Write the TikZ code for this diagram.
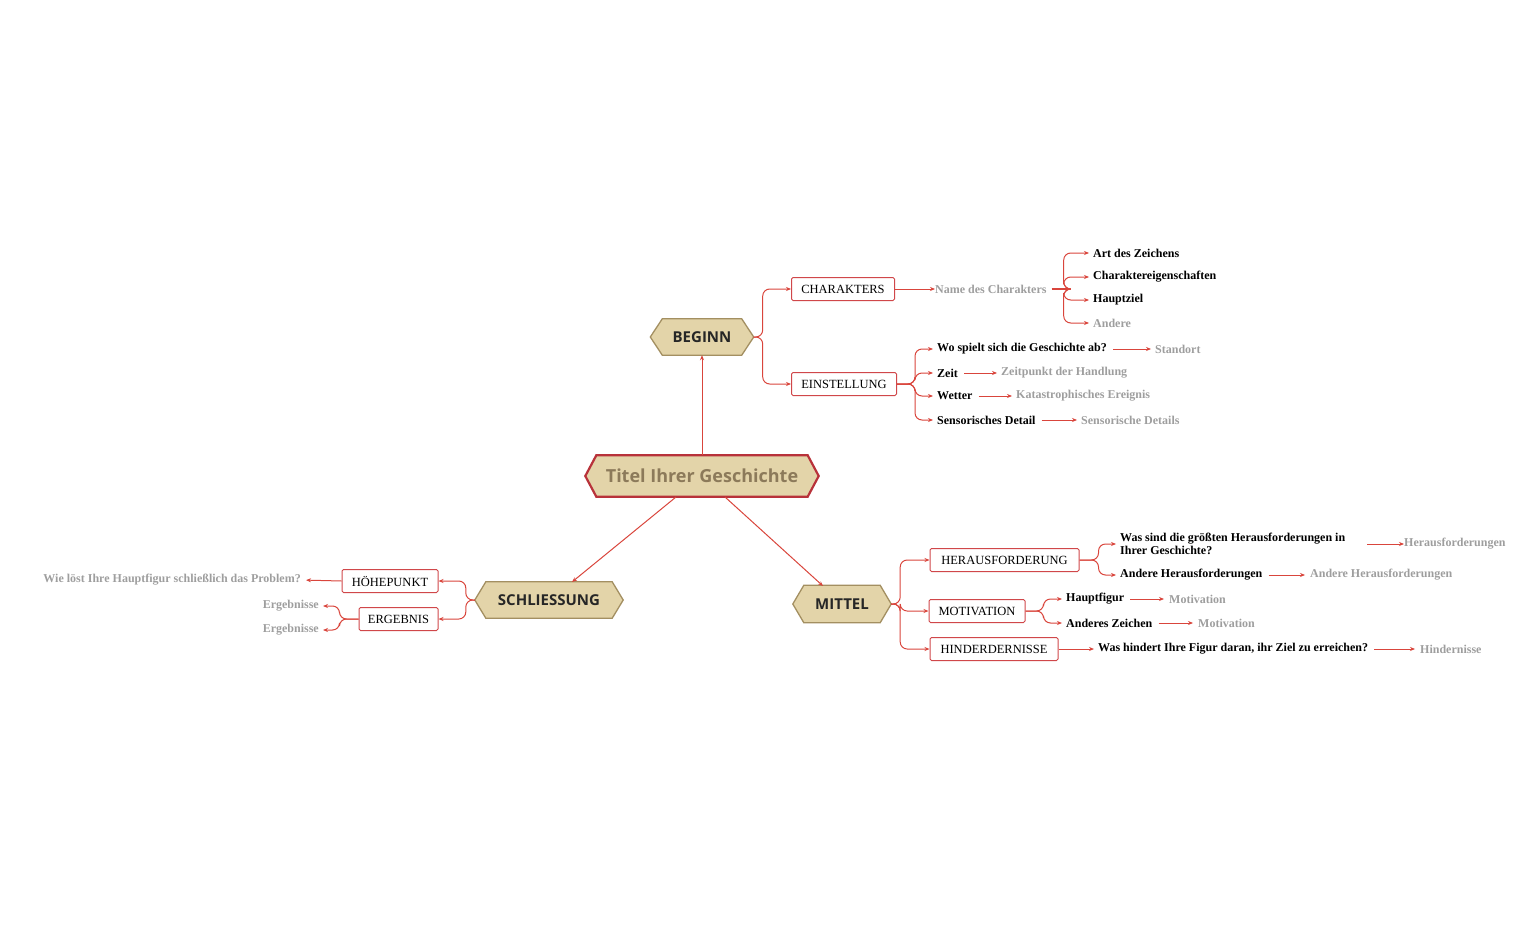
\documentclass[tikz,border=0pt]{standalone}
\usepackage{fontspec}
\setmainfont{Liberation Serif}
\newfontfamily\hexfont{Open Sans}
\usetikzlibrary{arrows.meta,backgrounds,calc}
\definecolor{cred}{HTML}{D9453C}
\definecolor{bred}{HTML}{D0474A}
\definecolor{hfill}{HTML}{E3D4A9}
\definecolor{hdraw}{HTML}{A38F61}
\definecolor{tred}{HTML}{B8323A}
\definecolor{ttext}{HTML}{8C7A5A}
\definecolor{gtext}{HTML}{9E9E9E}
\tikzset{
  x=1pt,y=-1pt,
  conn/.style={draw=cred,line width=1pt,-{Stealth[length=5pt,width=4pt]}},
  brc/.style={conn,rounded corners=7pt},
  box/.style={draw=bred,line width=1pt,rounded corners=1.5pt,fill=white,inner sep=0pt,minimum height=23pt,text=black,font=\fontsize{12.5}{14}\selectfont},
  leaf/.style={inner sep=0pt,anchor=west,font=\fontsize{12}{13.5}\selectfont\bfseries,text=black},
  gleaf/.style={leaf,text=gtext},
  hexn/.style={inner sep=0pt,font=\hexfont\bfseries\fontsize{15}{17}\selectfont,text=black!85},
}
\newcommand{\hexshape}[5]{\begin{pgfonlayer}{background}
\path[fill=hfill,draw=#2,line width=#3] ([xshift=-#4]#1.west) -- (#1.north west) -- (#1.north east) -- ([xshift=#4]#1.east) -- (#1.south east) -- (#1.south west) -- cycle;
\end{pgfonlayer}}
\begin{document}
\begin{tikzpicture}
\useasboundingbox (0,0) rectangle (1536,950);
% hexagons
\node[hexn,minimum width=211pt,minimum height=41pt,text=ttext,font=\hexfont\bfseries\fontsize{18}{20}\selectfont] (T) at (702,476) {Titel Ihrer Geschichte};
\hexshape{T}{tred}{2.2pt}{11pt}{}
\node[hexn,minimum width=79pt,minimum height=36pt] (B) at (702,337) {BEGINN};
\hexshape{B}{hdraw}{1.3pt}{12pt}{}
\node[hexn,minimum width=126pt,minimum height=36pt] (S) at (549,600) {SCHLIESSUNG};
\hexshape{S}{hdraw}{1.3pt}{11pt}{}
\node[hexn,minimum width=76pt,minimum height=37pt] (M) at (842,604) {MITTEL};
\hexshape{M}{hdraw}{1.3pt}{11pt}{}
\coordinate (Be) at ([xshift=12pt]B.east);
\coordinate (Me) at ([xshift=11pt]M.east);
\coordinate (Sw) at ([xshift=-11pt]S.west);
\coordinate (Ts) at (676,497);
\coordinate (Tm) at (725,497);
\coordinate (Sa) at (572,582);
\coordinate (Ma) at (823,586);
\draw[conn] (T.north) -- (B.south);
\draw[conn] (Ts) -- (Sa);
\draw[conn] (Tm) -- (Ma);

% BEGINN
\node[box,minimum width=103pt] (CH) at (843,289) {CHARAKTERS};
\node[box,minimum width=105pt] (EI) at (844,384) {EINSTELLUNG};
\draw[brc] (Be) -- ++(9,0) |- (CH.west);
\draw[brc] (Be) -- ++(9,0) |- (EI.west);
\node[gleaf] (NC) at (935,289) {Name des Charakters};
\draw[conn] (CH.east) -- (NC.west);
\node[leaf] (A1) at (1093,253) {Art des Zeichens};
\node[leaf] (A2) at (1093,277) {Charaktereigenschaften};
\node[leaf] (A3) at (1093,300) {Hauptziel};
\node[gleaf] (A4) at (1093,323) {Andere};
\draw[cred,line width=2pt] ([xshift=5pt]NC.east) -- ++(15,0) coordinate (nb);
\foreach \a in {A1,A2,A3,A4} \draw[brc] (nb) -- ++(-3,0) |- ([xshift=-4pt]\a.west);
\node[leaf] (E1) at (937,349) {Wo spielt sich die Geschichte ab?};
\node[leaf] (E2) at (937,373) {Zeit};
\node[leaf] (E3) at (937,396) {Wetter};
\node[leaf] (E4) at (937,420) {Sensorisches Detail};
\foreach \a in {E1,E2,E3,E4} \draw[brc] (EI.east) -- ++(18,0) |- ([xshift=-4pt]\a.west);
\node[gleaf] (F1) at (1155,349) {Standort};
\node[gleaf] (F2) at (1001,373) {Zeitpunkt der Handlung};
\node[gleaf] (F3) at (1016,396) {Katastrophisches Ereignis};
\node[gleaf] (F4) at (1081,420) {Sensorische Details};
\foreach \a/\b in {E1/F1,E2/F2,E3/F3,E4/F4} \draw[conn,shorten <=6pt,shorten >=4pt] (\a.east) -- (\b.west);

% MITTEL
\node[box,minimum width=149pt] (HE) at (1004.5,560) {HERAUSFORDERUNG};
\node[box,minimum width=96pt] (MO) at (977,611) {MOTIVATION};
\node[box,minimum width=128pt] (HI) at (994,649) {HINDERDERNISSE};
\foreach \a in {HE,MO,HI} \draw[brc] (Me) -- ++(9,0) |- (\a.west);
\node[leaf,align=left] (H1) at (1120,544) {Was sind die größten Herausforderungen in\\Ihrer Geschichte?};
\node[leaf] (H2) at (1120,575) {Andere Herausforderungen};
\foreach \a in {H1,H2} \draw[brc] (HE.east) -- ++(19,0) |- ([xshift=-4pt]\a.west);
\node[gleaf] (G1) at (1404,544) {Herausforderungen};
\node[gleaf] (G2) at (1310,575) {Andere Herausforderungen};
\draw[conn] (1367,544) -- (G1.west);
\draw[conn,shorten <=6pt,shorten >=5pt] (H2.east) -- (G2.west);
\node[leaf] (O1) at (1066,599) {Hauptfigur};
\node[leaf] (O2) at (1066,623) {Anderes Zeichen};
\foreach \a in {O1,O2} \draw[brc] (MO.east) -- ++(18,0) |- ([xshift=-4pt]\a.west);
\node[gleaf] (P1) at (1169,599) {Motivation};
\node[gleaf] (P2) at (1198,623) {Motivation};
\draw[conn,shorten <=6pt,shorten >=5pt] (O1.east) -- (P1.west);
\draw[conn,shorten <=6pt,shorten >=5pt] (O2.east) -- (P2.west);
\node[leaf] (I1) at (1098,649) {Was hindert Ihre Figur daran, ihr Ziel zu erreichen?};
\node[gleaf] (I2) at (1420,649) {Hindernisse};
\draw[conn,shorten >=4pt] (HI.east) -- (I1.west);
\draw[conn,shorten <=6pt,shorten >=5pt] (I1.east) -- (I2.west);

% SCHLIESSUNG
\node[box,minimum width=96pt] (HO) at (390,581) {HÖHEPUNKT};
\node[box,minimum width=79pt] (ER) at (398.5,619) {ERGEBNIS};
\foreach \a in {HO,ER} \draw[brc] (Sw) -- ++(-9,0) |- (\a.east);
\node[gleaf,anchor=east] (W1) at (301,580) {Wie löst Ihre Hauptfigur schließlich das Problem?};
\draw[conn,shorten >=5pt] (HO.west) -- (W1.east);
\node[gleaf,anchor=east] (R1) at (319,606) {Ergebnisse};
\node[gleaf,anchor=east] (R2) at (319,630) {Ergebnisse};
\foreach \a in {R1,R2} \draw[brc] (ER.west) -- ++(-19,0) |- ([xshift=4pt]\a.east);
\end{tikzpicture}
\end{document}
